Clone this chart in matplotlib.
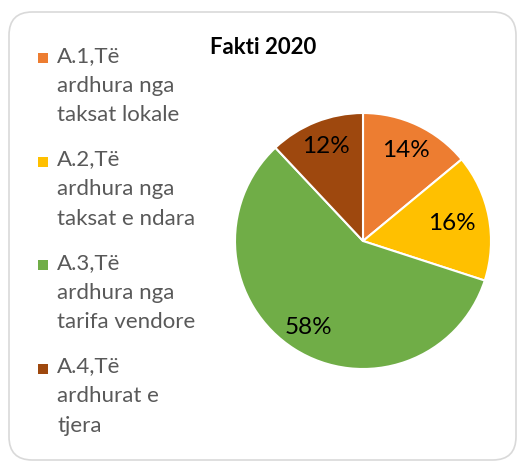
import numpy as np
import matplotlib.pyplot as plt
from matplotlib.patches import FancyBboxPatch, Rectangle

labels = ["A.1,Të\nardhura nga\ntaksat lokale",
          "A.2,Të\nardhura nga\ntaksat e ndara",
          "A.3,Të\nardhura nga\ntarifa vendore",
          "A.4,Të\nardhurat e\ntjera"]
values = [14, 16, 58, 12]
colors = ["#ED7D31", "#FFC000", "#70AD47", "#9E480E"]
pct_dist = [0.78, 0.71, 0.80, 0.79]

plt.rcParams['font.family'] = ['Lato', 'DejaVu Sans']

W, H = 518, 468
fig = plt.figure(figsize=(W / 100, H / 100), dpi=100)

# rounded frame
frame = FancyBboxPatch((9 / W, 8 / H), 507 / W, 448 / H,
                       boxstyle="round,pad=0,rounding_size=0.045",
                       transform=fig.transFigure, facecolor="white",
                       edgecolor="#D9D9D9", linewidth=1.2, mutation_aspect=W / H,
                       zorder=-5)
fig.patches.append(frame)

# pie
cx, cy, r = 363, 241, 128
ax = fig.add_axes([(cx - r) / W, (H - cy - r) / H, 2 * r / W, 2 * r / H], zorder=2)
ax.patch.set_visible(False)
wedges, texts = ax.pie(values, colors=colors, startangle=90, counterclock=False,
                       wedgeprops=dict(edgecolor="white", linewidth=1.5))
ax.set_xlim(-1, 1)
ax.set_ylim(-1, 1)
ax.set_aspect("equal")

for w, v, d in zip(wedges, values, pct_dist):
    ang = np.deg2rad((w.theta1 + w.theta2) / 2)
    ax.text(d * np.cos(ang), d * np.sin(ang), f"{v}%", ha="center", va="center",
            fontsize=17.5, color="black")

fig.text(263 / W, 1 - 48 / H, "Fakti 2020", ha="center", va="center",
         fontsize=16, fontweight="bold", color="black")

# legend
y0 = 58
for i, (lab, col) in enumerate(zip(labels, colors)):
    y = y0 + i * 103.5
    fig.patches.append(Rectangle((38 / W, 1 - (y + 5) / H), 10 / W, 10 / H,
                                 transform=fig.transFigure, facecolor=col, edgecolor="none"))
    fig.text(57 / W, 1 - (y - 12) / H, lab, ha="left", va="top", fontsize=16,
             color="#595959", linespacing=1.6)

fig.savefig("out.png", dpi=100)
